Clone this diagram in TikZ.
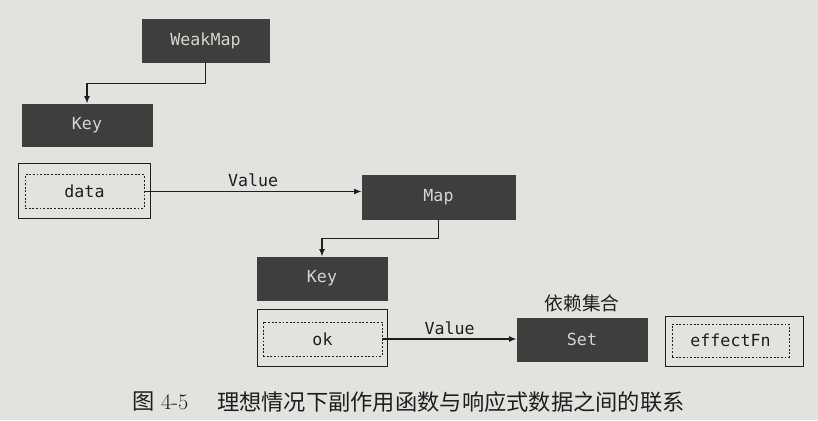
\documentclass[tikz,border=0pt]{standalone}
\usepackage{fontspec}
\setmonofont{DejaVu Sans Mono}
\newfontfamily\cjk{Noto Sans CJK SC}
\usetikzlibrary{positioning, arrows.meta}
\tikzset{>={Latex[length=6.5pt, width=5pt]}}
\definecolor{paper}{RGB}{226,226,222}
\definecolor{boxfill}{RGB}{62,62,60}
\definecolor{boxtext}{RGB}{214,214,208}
\definecolor{ink}{RGB}{30,30,30}

\begin{document}
\begin{tikzpicture}[x=0.03cm, y=-0.03cm,
    code/.style={font=\ttfamily\fontsize{14.2}{16}\selectfont},
    dark/.style={code, fill=boxfill, draw=boxfill, text=boxtext, minimum width=3.9cm, minimum height=1.29cm},
    outer/.style={draw=ink, line width=0.8pt, minimum width=3.9cm, minimum height=1.7cm},
    inner/.style={code, draw=ink, dash pattern=on 1.6pt off 1.5pt, line width=0.75pt, text=ink, minimum width=3.57cm, minimum height=1cm},
    link/.style={->, draw=ink, line width=1.2pt}]
    \fill [paper] (0, 0) rectangle (818, 420);
    % WeakMap level
    \node [dark, minimum width=3.81cm] (weakmap) at (205.5, 40.5) {WeakMap};
    \node [dark, minimum height=1.26cm] (key1) at (87, 125) {Key};
    \node [outer, minimum width=3.96cm, minimum height=1.65cm] (dataout) at (84, 190.5) {};
    \node [inner] (data) at (84.5, 191.5) {data};
    \draw [link] (weakmap.south) -- ++(0, 21) -| (key1.north);
    % Map level
    \node [dark, minimum width=4.59cm, minimum height=1.32cm] (map) at (438.5, 197) {Map};
    \draw [link] (data.east) -- (data.east -| map.west) node [midway, above, code, text=ink] {Value};
    \node [dark] (key2) at (322, 278.5) {Key};
    \node [outer] (okout) at (322, 338) {};
    \node [inner, minimum height=1.02cm] (ok) at (322.5, 339) {ok};
    \draw [link] (map.south) -- ++(0, 19) -| (key2.north);
    % Set level
    \node [dark] (set) at (582, 339.5) {Set};
    \node [above=1pt of set, text=ink, font=\cjk\fontsize{16}{18}\selectfont] (setlabel) {依赖集合};
    \draw [link] (ok.east) -- (ok.east -| set.west) node [midway, above, code, text=ink] {Value};
    \node [outer, minimum width=4.14cm, minimum height=1.5cm] (effout) at (734, 341) {};
    \node [inner, minimum width=3.51cm, minimum height=0.99cm] (effect) at (730.5, 340.5) {effectFn};
    % caption
    \node [anchor=west, text=ink, font=\fontsize{19}{21}\selectfont] (fignum) at (128, 402) {{\cjk 图} 4-5};
    \node [anchor=west, text=ink, font=\cjk\fontsize{19}{21}\selectfont] (caption) at (213, 402) {理想情况下副作用函数与响应式数据之间的联系};
\end{tikzpicture}
\end{document}
